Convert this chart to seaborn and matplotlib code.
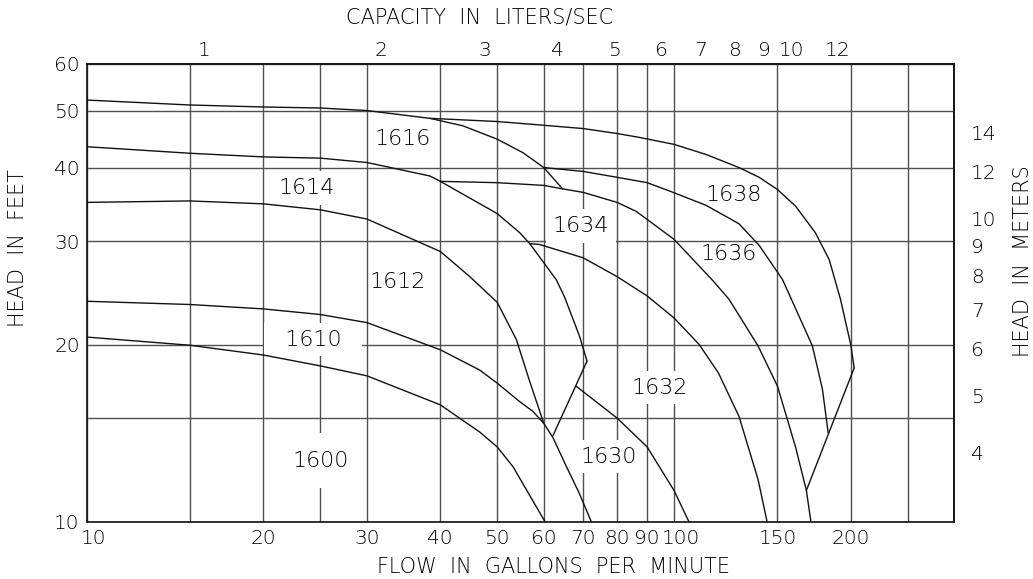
import matplotlib
matplotlib.use("Agg")
import matplotlib.pyplot as plt
from matplotlib.transforms import ScaledTranslation
import seaborn as sns

# ---------------- data (flow in US gpm, head in feet) ----------------
c1616_q = [10, 15, 20, 25, 30, 38.4, 43.7, 50, 55.3, 60, 64.6]
c1616_h = [52.1, 51.1, 50.7, 50.5, 50.0, 48.5, 47.1, 44.7, 42.4, 40.0, 36.8]

c1638_q = [38.4, 50, 60, 70, 80, 87.4, 100, 113.4, 129, 139.6, 150, 161, 174, 183.7, 192, 200, 202.6]
c1638_h = [48.5, 47.9, 47.2, 46.6, 45.7, 45.0, 43.8, 42.1, 40.0, 38.5, 36.7, 34.4, 31.0, 27.9, 23.9, 19.95, 18.25]

c1614_q = [10, 15, 20, 25, 30, 38.4, 40, 50, 54.6, 56.8, 63, 65.1, 69, 71.1]
c1614_h = [43.4, 42.3, 41.7, 41.5, 40.8, 38.7, 37.9, 33.4, 31.0, 29.7, 25.8, 24.1, 20.7, 18.75]

c1634_q = [40, 50, 60, 64.6, 70, 80, 86.2, 100, 116, 124, 139, 150, 161, 168, 171]
c1634_h = [37.9, 37.7, 37.3, 36.8, 36.3, 34.9, 33.7, 30.2, 25.8, 23.9, 19.9, 17.0, 13.4, 11.3, 10.0]

c1636_q = [60, 70, 80, 90, 98.2, 113.4, 129, 139.6, 153, 172, 178.9, 183]
c1636_h = [40.0, 39.4, 38.5, 37.7, 36.5, 34.5, 32.1, 29.5, 25.8, 19.9, 16.8, 14.15]

c1612_q = [10, 15, 20, 25, 30, 40, 44.9, 50, 53.9, 56.7, 60]
c1612_h = [34.9, 35.1, 34.7, 33.9, 32.7, 28.8, 26.1, 23.6, 20.4, 17.4, 14.7]

c1610_q = [10, 15, 20, 25, 30, 40, 46.7, 50, 54.6, 57.5, 60, 62.2, 65.6, 68.9, 72.3]
c1610_h = [23.7, 23.4, 23.0, 22.5, 21.8, 19.6, 18.1, 17.2, 16.0, 15.4, 14.7, 13.9, 12.4, 11.2, 10.0]

c1600_q = [10, 15, 20, 25, 30, 40, 46.7, 50, 53.2, 60.3]
c1600_h = [20.6, 19.95, 19.2, 18.4, 17.7, 15.8, 14.2, 13.4, 12.4, 10.0]

c1632_q = [56.8, 59, 70, 80, 90, 100, 110.4, 119, 129, 139, 144]
c1632_h = [29.7, 29.6, 28.1, 26.1, 24.2, 22.2, 20.0, 17.9, 15.1, 11.8, 10.0]

c1630_q = [68.1, 80, 90, 94.4, 100, 106]
c1630_h = [17.0, 15.0, 13.4, 12.4, 11.3, 10.0]

vleft_q = [71.1, 62.2]
vleft_h = [18.75, 14.0]
vright_q = [202.6, 168]
vright_h = [18.25, 11.3]

label_text = ["1616", "1614", "1612", "1610", "1600", "1634", "1632", "1630", "1638", "1636"]
label_q = [34.5, 23.7, 33.8, 24.3, 25.0, 69.5, 94.4, 77.3, 126.6, 124.0]
label_h = [44.7, 36.9, 25.6, 20.4, 12.7, 31.8, 16.9, 12.9, 35.9, 28.5]
label_box = [False, True, False, True, True, True, True, True, False, False]

flow_ticks = [10, 20, 30, 40, 50, 60, 70, 80, 90, 100, 150, 200]
flow_minor = [15, 25, 250]
head_ticks = [10, 20, 30, 40, 50, 60]
head_minor = [15]
lps_ticks = [1, 2, 3, 4, 5, 6, 7, 8, 9, 10, 12]
m_ticks = [4, 5, 6, 7, 8, 9, 10, 12, 14]

GPM_PER_LPS = 15.850
FT_PER_M = 3.28084

# ---------------- style ----------------
sns.set_theme(style="white")
plt.rcParams["font.family"] = ["DejaVu Sans"]
plt.rcParams["font.weight"] = "light"
plt.rcParams["text.color"] = "black"
plt.rcParams["xtick.color"] = "black"
plt.rcParams["ytick.color"] = "black"

FS = 14.5
fig = plt.figure(figsize=(10.33, 5.79), dpi=100)
ax = fig.add_axes([0.0839, 0.099, 0.8399, 0.7905])
ax.set_xscale("log")
ax.set_yscale("log")

curves = [
    (c1616_q, c1616_h), (c1638_q, c1638_h), (c1614_q, c1614_h),
    (c1634_q, c1634_h), (c1636_q, c1636_h), (c1612_q, c1612_h),
    (c1610_q, c1610_h), (c1600_q, c1600_h), (c1632_q, c1632_h),
    (c1630_q, c1630_h), (vleft_q, vleft_h), (vright_q, vright_h),
]
for q, h in curves:
    sns.lineplot(x=q, y=h, ax=ax, sort=False, estimator=None,
                 color="#111111", linewidth=1.0, zorder=2)

ax.set_xlim(10, 300)
ax.set_ylim(10, 60)

ax.set_xticks(flow_ticks)
ax.set_xticklabels([str(t) for t in flow_ticks])
ax.set_xticks(flow_minor, minor=True)
ax.set_xticklabels([], minor=True)
ax.set_yticks(head_ticks)
ax.set_yticklabels([str(t) for t in head_ticks])
ax.set_yticks(head_minor, minor=True)
ax.set_yticklabels([], minor=True)
ax.tick_params(axis="both", which="both", length=0, labelsize=FS)
ax.tick_params(axis="x", pad=5)
ax.tick_params(axis="y", pad=5)

xlabels = ax.get_xticklabels()
for val, dx in ((10, 7), (100, 7)):
    lab = xlabels[flow_ticks.index(val)]
    lab.set_transform(lab.get_transform()
                      + ScaledTranslation(dx / 100, 0, fig.dpi_scale_trans))

ax.grid(True, which="both", color="#505050", linewidth=1.0)
ax.set_axisbelow(True)
for s in ax.spines.values():
    s.set_color("#111111")
    s.set_linewidth(1.2)

# secondary axes
secx = ax.secondary_xaxis("top", functions=(lambda g: g / GPM_PER_LPS,
                                            lambda l: l * GPM_PER_LPS))
secx.set_xticks(lps_ticks)
secx.set_xticklabels([str(t) for t in lps_ticks])
secx.tick_params(length=0, labelsize=FS, pad=3)
secx.xaxis.set_minor_locator(matplotlib.ticker.NullLocator())

secy = ax.secondary_yaxis("right", functions=(lambda f: f / FT_PER_M,
                                              lambda m: m * FT_PER_M))
secy.set_yticks(m_ticks)
secy.set_yticklabels([str(t) for t in m_ticks])
secy.tick_params(length=0, labelsize=FS, pad=12)
secy.yaxis.set_minor_locator(matplotlib.ticker.NullLocator())

# curve labels: white boxes break the grid lines but stay under the curves
for t, q, h, box in zip(label_text, label_q, label_h, label_box):
    kw = {}
    txt = t
    if box:
        pad = 0.3
        if t == "1600":
            pad = 0.8
        if t == "1610":
            txt = "  " + t + "  "
        kw["bbox"] = dict(boxstyle=f"square,pad={pad}", fc="white", ec="none")
    ax.text(q, h, txt, ha="center", va="center", fontsize=16,
            color="black", zorder=1.5, **kw)

# axis titles
fig.text(0.4647, 0.9706, "CAPACITY  IN  LITERS/SEC", ha="center", va="center", fontsize=15)
fig.text(0.5363, 0.0212, "FLOW  IN  GALLONS  PER  MINUTE", ha="center", va="center", fontsize=15)
fig.text(0.0174, 0.5725, "HEAD  IN  FEET", ha="center", va="center", rotation=90, fontsize=15)
fig.text(0.990, 0.549, "HEAD  IN  METERS", ha="center", va="center", rotation=90, fontsize=15)

fig.savefig("out.png", dpi=100, facecolor="white")
